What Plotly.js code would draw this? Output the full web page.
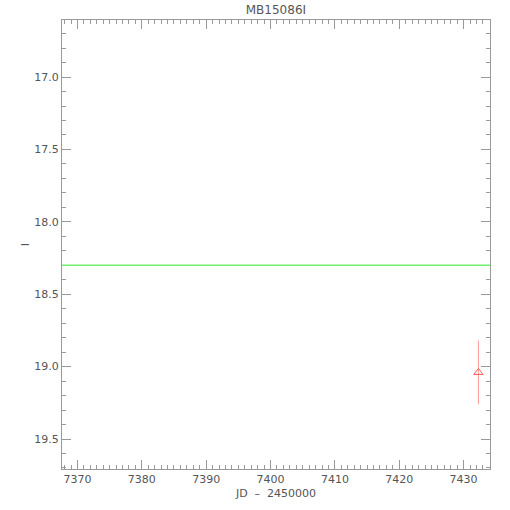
<!DOCTYPE html>
<html><head><meta charset="utf-8">
<script src="https://cdn.plot.ly/plotly-3.0.1.min.js"></script>
<style>html,body{margin:0;padding:0;background:#fff}#plot{width:510px;height:510px}</style>
</head><body><div id="plot"></div>
<script>
// Data
const obsJD = [7432.3];
const obsMag = [19.04];
const obsErr = [0.22];
const baselineMag = 18.3;
const xRange = [7367.6, 7434.1];
const yRange = [19.707, 16.606];

const font = {family: 'DejaVu Sans, sans-serif', size: 11, color: '#555'};
const axisCommon = {
  showgrid: false, zeroline: false, showline: true, linecolor: '#999', linewidth: 1,
  mirror: 'ticks', ticks: 'inside', tickcolor: '#999', tickwidth: 1, tickfont: font
};

const traces = [
  {x: obsJD, y: obsMag, type: 'scatter', mode: 'markers',
   marker: {symbol: 'triangle-up-open', size: 8, color: '#ff5a5a', line: {width: 1}},
   error_y: {type: 'data', array: obsErr, visible: true, color: '#ff9a9a', thickness: 1, width: 0},
   showlegend: false, hoverinfo: 'skip'}
];

const layout = {
  width: 510, height: 510,
  margin: {l: 62, r: 20, t: 20, b: 41},
  paper_bgcolor: '#fff', plot_bgcolor: '#fff',
  title: {text: 'MB15086I', font: {family: font.family, size: 12, color: '#555'}, x: 0.541, xanchor: 'center', y: 0.98, yanchor: 'middle'},
  xaxis: Object.assign({}, axisCommon, {
    range: xRange, dtick: 10, tick0: 7370, ticklen: 9,
    minor: {dtick: 1, ticklen: 4, ticks: 'inside', tickcolor: '#999'},
    title: {text: 'JD  –  2450000', font: font, standoff: 4}
  }),
  yaxis: Object.assign({}, axisCommon, {
    range: yRange, dtick: 0.5, tick0: 17, ticklen: 9, tickformat: '.1f',
    minor: {dtick: 0.1, ticklen: 4, ticks: 'inside', tickcolor: '#999'},
    title: {text: 'I', font: font, standoff: 2}
  }),
  shapes: [
    {type: 'line', xref: 'paper', x0: 0, x1: 1, yref: 'y', y0: baselineMag, y1: baselineMag,
     line: {color: '#6ef06e', width: 1.5}}
  ]
};

Plotly.newPlot('plot', traces, layout, {staticPlot: true, displayModeBar: false});
</script></body></html>
